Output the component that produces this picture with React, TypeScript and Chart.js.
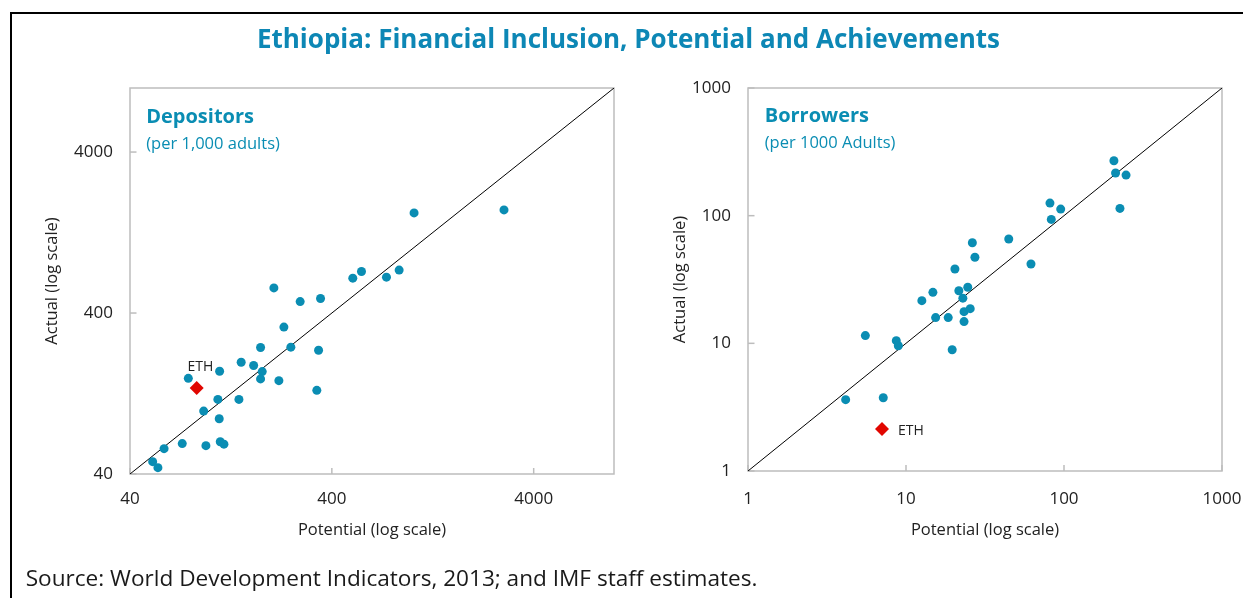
import React, { useEffect, useRef } from "react";
import { Chart, registerables } from "chart.js";

Chart.register(...registerables);

// ---------- look ----------
const FONT = '"Open Sans", "Noto Sans", sans-serif';
const TEAL = "#0A8DB3";
const TITLE_TEAL = "#0D87B5";
const INK = "#222222";
const FRAME_GRAY = "#BDBDBD";
const ETH_RED = "#E10600";

// ---------- data: Depositors (per 1,000 adults) ----------
const depTicks = [40, 400, 4000];
const depRange = [40, 10000];
const depPotential = [51.8, 55.0, 59.0, 72.6, 95.1, 112, 116.8, 92.7, 110.7, 109, 138.6, 77.8, 111.2, 142.2, 163.9, 180.8, 177.4, 218.6, 177.4, 250.6, 231.5, 337, 343.8, 206.5, 278.7, 351.6, 508, 561, 746, 862, 1022, 2851];
const depActual = [47.7, 43.8, 57.5, 61.8, 60.0, 63.4, 61.3, 98.4, 88.1, 116.3, 116.3, 157.2, 173.8, 197.9, 188.7, 173.1, 155.9, 152.1, 244.4, 245.5, 327, 132.4, 235, 572.8, 471, 492, 658.8, 725, 668, 739, 1675, 1749];
const depEth = [85.6, 137];

// ---------- data: Borrowers (per 1000 adults) ----------
const borTicks = [1, 10, 100, 1000];
const borRange = [1, 1000];
const borPotential = [4.15, 7.18, 5.53, 8.68, 8.94, 19.6, 15.4, 18.5, 23.3, 23.3, 25.5, 22.9, 12.6, 14.8, 21.6, 24.6, 20.4, 26.3, 27.3, 44.7, 61.8, 81.5, 95.3, 83.1, 207, 212, 247, 226];
const borActual = [3.62, 3.75, 11.5, 10.5, 9.58, 8.91, 15.9, 15.9, 14.8, 17.7, 18.7, 22.6, 21.6, 25.1, 25.8, 27.5, 38.2, 61.3, 47.2, 65.6, 41.8, 125.5, 112.6, 93.5, 269, 216, 208, 114];
const borEth = [7.05, 2.13];

type Spec = {
  left: number; w: number;
  ticks: number[]; range: number[]; px: number[]; py: number[]; eth: number[];
  padL: number; padR: number; padT: number; padB: number; yW: number; xH: number;
  xPad: number; yTitlePad: number;
  ethDx: number; ethDy: number; ethAlign: CanvasTextAlign;
};

const specs: Spec[] = [
  {
    left: 0, w: 621, ticks: depTicks, range: depRange, px: depPotential, py: depActual, eth: depEth,
    padL: 34, padR: 7, padT: 88, padB: 54, yW: 96, xH: 70, xPad: 15, yTitlePad: 8.1,
    ethDx: 3.8, ethDy: -21, ethAlign: "center",
  },
  {
    left: 621, w: 622, ticks: borTicks, range: borRange, px: borPotential, py: borActual, eth: borEth,
    padL: 34, padR: 21, padT: 88, padB: 54, yW: 93, xH: 73, xPad: 18, yTitlePad: 15.1,
    ethDx: 16, ethDy: 2, ethAlign: "left",
  },
];

function buildConfig(spec: Spec): any {
  const decor = {
    id: "decor",
    beforeDatasetsDraw(chart: any) {
      const { ctx, chartArea: a, scales } = chart;
      ctx.save();
      ctx.strokeStyle = FRAME_GRAY;
      ctx.lineWidth = 1.5;
      ctx.strokeRect(a.left, a.top, a.right - a.left, a.bottom - a.top);
      spec.ticks.forEach((v) => {
        const px = scales.x.getPixelForValue(v);
        ctx.beginPath();
        ctx.moveTo(px, a.bottom);
        ctx.lineTo(px, a.bottom - 6);
        ctx.stroke();
        const py = scales.y.getPixelForValue(v);
        ctx.beginPath();
        ctx.moveTo(a.left, py);
        ctx.lineTo(a.left + 6.5, py);
        ctx.stroke();
      });
      ctx.restore();
    },
    afterDatasetsDraw(chart: any) {
      const { ctx, scales } = chart;
      const x = scales.x.getPixelForValue(spec.eth[0]) + spec.ethDx;
      const y = scales.y.getPixelForValue(spec.eth[1]) + spec.ethDy;
      ctx.save();
      ctx.font = `14px ${FONT}`;
      ctx.fillStyle = INK;
      ctx.textAlign = spec.ethAlign;
      ctx.textBaseline = "middle";
      ctx.fillText("ETH", x, y);
      ctx.restore();
    },
  };

  const axisCommon = (isX: boolean) => ({
    type: "logarithmic",
    min: spec.range[0],
    max: spec.range[1],
    afterBuildTicks: (s: any) => {
      s.ticks = spec.ticks.map((v) => ({ value: v }));
    },
    grid: { display: false, drawTicks: false },
    border: { display: false },
    ticks: {
      padding: isX ? spec.xPad : 17,
      color: INK,
      font: { family: FONT, size: 17 },
      callback: (v: any) => String(v),
      autoSkip: false,
      maxRotation: 0,
    },
  });

  const zeroPad = (s: any) => {
    s.paddingLeft = 0;
    s.paddingRight = 0;
    s.paddingTop = 0;
    s.paddingBottom = 0;
  };

  return {
    type: "scatter",
    data: {
      datasets: [
        {
          data: [{ x: spec.eth[0], y: spec.eth[1] }],
          pointStyle: "rectRot",
          pointRadius: 7,
          backgroundColor: ETH_RED,
          borderColor: ETH_RED,
          borderWidth: 0,
        },
        {
          data: spec.px.map((v, i) => ({ x: v, y: spec.py[i] })),
          pointRadius: 4.5,
          backgroundColor: TEAL,
          borderColor: TEAL,
          borderWidth: 0,
        },
        {
          data: [
            { x: spec.range[0], y: spec.range[0] },
            { x: spec.range[1], y: spec.range[1] },
          ],
          showLine: true,
          borderColor: "#000000",
          borderWidth: 1,
          pointRadius: 0,
        },
      ],
    },
    options: {
      responsive: false,
      animation: false,
      events: [],
      layout: { padding: { left: spec.padL, right: spec.padR, top: spec.padT, bottom: spec.padB } },
      plugins: { legend: { display: false }, tooltip: { enabled: false } },
      scales: {
        x: {
          ...axisCommon(true),
          afterFit: (s: any) => {
            s.height = spec.xH;
            zeroPad(s);
          },
          title: {
            display: true,
            text: "Potential (log scale)",
            color: INK,
            font: { family: FONT, size: 16.5 },
            padding: { top: 0, bottom: 4 },
          },
        },
        y: {
          ...axisCommon(false),
          afterFit: (s: any) => {
            s.width = spec.yW;
            zeroPad(s);
          },
          title: {
            display: true,
            text: "Actual (log scale)",
            color: INK,
            font: { family: FONT, size: 16.5 },
            padding: { top: spec.yTitlePad, bottom: 0 },
          },
        },
      },
    },
    plugins: [decor],
  };
}

function ScatterPanel({ spec }: { spec: Spec }) {
  const ref = useRef<HTMLCanvasElement>(null);
  useEffect(() => {
    const chart = new Chart(ref.current as HTMLCanvasElement, buildConfig(spec));
    return () => chart.destroy();
  }, []);
  return (
    <canvas
      ref={ref}
      width={spec.w}
      height={598}
      style={{ position: "absolute", left: spec.left, top: 0, width: spec.w, height: 598, display: "block" }}
    />
  );
}

// place text by its baseline (Open Sans, line-height 1)
function Label(props: { text: string; x: number; baseline: number; size: number; bold?: boolean; color: string; center?: boolean }) {
  const { text, x, baseline, size, bold, color, center } = props;
  const top = baseline - 0.888 * size;
  const style: any = {
    position: "absolute",
    top,
    fontFamily: FONT,
    fontSize: size,
    fontWeight: bold ? 700 : 400,
    lineHeight: 1,
    color,
    whiteSpace: "nowrap",
    margin: 0,
  };
  if (center) {
    style.left = x - 1000;
    style.width = 2000;
    style.textAlign = "center";
  } else {
    style.left = x;
  }
  return <div style={style}>{text}</div>;
}

export default function App() {
  return (
    <div style={{ position: "fixed", left: 0, top: 0, width: 1243, height: 598, overflow: "hidden", background: "#ffffff" }}>
      <div
        style={{
          position: "absolute",
          left: 10,
          top: 12,
          width: 3000,
          height: 3000,
          borderLeft: "2px solid #000",
          borderTop: "2px solid #000",
          boxSizing: "border-box",
        }}
      />
      {specs.map((s, i) => (
        <ScatterPanel key={i} spec={s} />
      ))}
      <Label text="Ethiopia: Financial Inclusion, Potential and Achievements" x={628.5} baseline={48} size={26} bold color={TITLE_TEAL} center />
      <Label text="Depositors" x={146.2} baseline={124} size={20} bold color={TEAL} />
      <Label text="(per 1,000 adults)" x={146.2} baseline={149.3} size={16.5} color={TEAL} />
      <Label text="Borrowers" x={764.7} baseline={122.7} size={20} bold color={TEAL} />
      <Label text="(per 1000 Adults)" x={764.7} baseline={149} size={16.5} color={TEAL} />
      <Label text="Source: World Development Indicators, 2013; and IMF staff estimates." x={25.7} baseline={587.3} size={22.6} color="#1A1A1A" />
    </div>
  );
}
